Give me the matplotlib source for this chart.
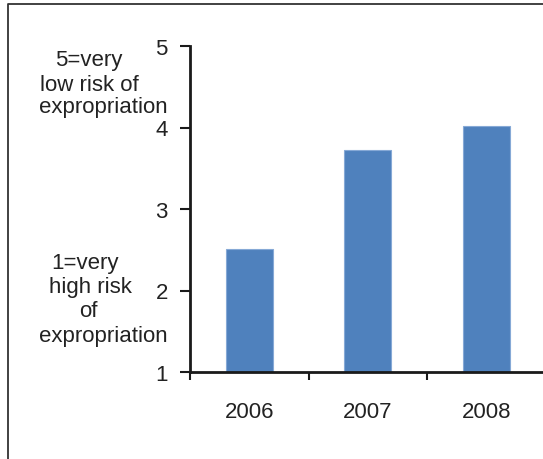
import matplotlib
matplotlib.use("Agg")
import matplotlib.pyplot as plt
from matplotlib.lines import Line2D

# data
years = ["2006", "2007", "2008"]
scores = [2.51, 3.73, 4.02]
yticks = [1, 2, 3, 4, 5]

plt.rcParams['font.family'] = ['Liberation Sans', 'DejaVu Sans']
txt = '#222222'
fs = 16

fig = plt.figure(figsize=(5.43, 4.6), dpi=100)
W, H = 543.0, 460.0

# axes placed in pixel terms
ax = fig.add_axes([190 / W, 1 - 373 / H, 355.5 / W, 326 / H])

x = list(range(len(years)))
ax.bar(x, scores, width=0.4, bottom=0, color='#4F81BD',
       edgecolor='#86a9d6', linewidth=0.8, zorder=2)

ax.set_xlim(-0.5, len(years) - 0.5)
ax.set_ylim(1, 5)

for s in ['top', 'right']:
    ax.spines[s].set_visible(False)
for s in ['left', 'bottom']:
    ax.spines[s].set_linewidth(2)
    ax.spines[s].set_color('#1a1a1a')

ax.set_yticks(yticks)
ax.set_yticklabels([str(v) for v in yticks])
ax.tick_params(axis='y', length=7, width=1.5, color='#1a1a1a',
               labelsize=fs, labelcolor=txt, pad=9)

ax.set_xticks([i - 0.5 for i in range(len(years) + 1)])
ax.set_xticklabels([])
ax.set_xticks(x, minor=True)
ax.set_xticklabels(years, minor=True)
ax.tick_params(axis='x', which='major', length=6, width=1.5, color='#1a1a1a')
ax.tick_params(axis='x', which='minor', length=0, labelsize=fs,
               labelcolor=txt, pad=21)

# side notes, one line at a time
top_note = [("5=very", 89, 66), ("low risk of", 89, 91), ("expropriation", 103, 113)]
low_note = [("1=very", 85, 269), ("high risk", 90, 293), ("of", 88, 317),
            ("expropriation", 103, 342)]
for t, px, py in top_note + low_note:
    fig.text(px / W, 1 - py / H, t, ha='center', va='baseline',
             fontsize=fs, color=txt)

# frame (only top and left edges fall inside the image)
fig.add_artist(Line2D([7.5 / W, 7.5 / W, 1.0], [0, 1 - 5 / H, 1 - 5 / H],
                      transform=fig.transFigure, color='#333333', linewidth=1.3))

fig.savefig("out.png", dpi=100)
